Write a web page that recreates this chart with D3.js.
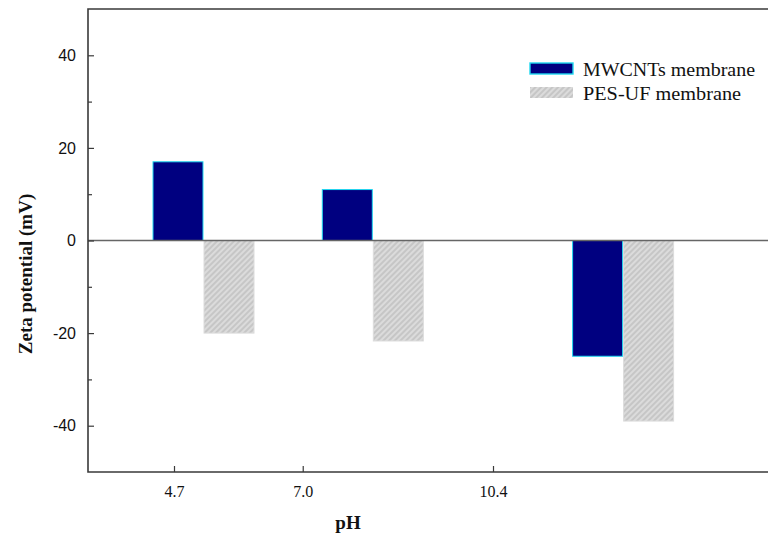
<!DOCTYPE html>
<html>
<head>
<meta charset="utf-8">
<script src="https://cdn.jsdelivr.net/npm/d3@7/dist/d3.min.js"></script>
<style>
  html, body { margin: 0; padding: 0; background: #fff; }
  svg { display: block; }
</style>
</head>
<body>
<svg id="chart" width="768" height="534"></svg>
<script>
// pH levels tested and zeta potential (mV) of each membrane
const phLevels = [4.7, 7.0, 10.4];
const phLabels = ["4.7", "7.0", "10.4"];
const seriesNames = ["MWCNTs membrane", "PES-UF membrane"];
const mwcntsZeta = [17, 11, -25];
const pesZeta = [-20, -21.7, -39];
const yMajorTicks = [-40, -20, 0, 20, 40];
const yMinorTicks = [-30, -10, 10, 30];

const svg = d3.select("#chart");
const plot = { left: 88, right: 768, top: 9, bottom: 472 };

// y: zeta potential
const y = d3.scaleLinear().domain([-50, 50]).range([plot.bottom, plot.top]);
// bar groups are placed proportionally to pH
const xBar = d3.scaleLinear().domain([4.7, 10.4]).range([203, 622.6]);
// tick labels along the bottom axis
const xTick = d3.scaleLinear().domain([4.7, 10.4]).range([174, 493]);
// position of each series inside a group
const xSeries = d3.scaleBand().domain(seriesNames).range([-50, 51]).paddingInner(0.02);

const data = [];
phLevels.forEach((ph, i) => {
  data.push({ ph, series: seriesNames[0], v: mwcntsZeta[i] });
  data.push({ ph, series: seriesNames[1], v: pesZeta[i] });
});

// hatch fill for the PES-UF bars
const defs = svg.append("defs");
const pat = defs.append("pattern")
  .attr("id", "hatch")
  .attr("patternUnits", "userSpaceOnUse")
  .attr("width", 4).attr("height", 4)
  .attr("patternTransform", "rotate(-45)");
pat.append("rect").attr("width", 4).attr("height", 4).attr("fill", "#c6c6c6");
pat.append("line").attr("x1", 0).attr("x2", 4).attr("y1", 2).attr("y2", 2)
  .attr("stroke", "#ececec").attr("stroke-width", 1.1);

const fills = { "MWCNTs membrane": "#000080", "PES-UF membrane": "url(#hatch)" };
const strokes = { "MWCNTs membrane": "#1fd8f0", "PES-UF membrane": "#dcdcdc" };

// bars
svg.append("g").selectAll("rect")
  .data(data)
  .join("rect")
  .attr("x", d => xBar(d.ph) + xSeries(d.series))
  .attr("width", xSeries.bandwidth())
  .attr("y", d => y(Math.max(0, d.v)))
  .attr("height", d => Math.abs(y(d.v) - y(0)))
  .attr("fill", d => fills[d.series])
  .attr("stroke", d => strokes[d.series])
  .attr("stroke-width", 1);

// zero line
svg.append("line")
  .attr("x1", plot.left).attr("x2", plot.right)
  .attr("y1", y(0)).attr("y2", y(0))
  .attr("stroke", "#666").attr("stroke-width", 1.6);

// frame: top, left and bottom lines
svg.append("path")
  .attr("d", `M${plot.right},${plot.top}H${plot.left}V${plot.bottom}H${plot.right}`)
  .attr("stroke", "#3a3a3a").attr("stroke-width", 1.6).attr("fill", "none");

// y axis (ticks pointing inward), plain hyphen for negatives
const yAxis = svg.append("g")
  .attr("transform", `translate(${plot.left},0)`)
  .call(d3.axisLeft(y).tickValues(yMajorTicks).tickSize(-6).tickPadding(12)
    .tickFormat(d => String(d)));
yAxis.select(".domain").remove();
yAxis.selectAll(".tick line").attr("stroke", "#3a3a3a").attr("stroke-width", 1.2);
yAxis.selectAll(".tick text")
  .attr("font-family", "'Liberation Sans', Arial, sans-serif")
  .attr("font-size", 16).attr("fill", "#111");

svg.append("g")
  .attr("transform", `translate(${plot.left},0)`)
  .call(d3.axisLeft(y).tickValues(yMinorTicks).tickSize(-4).tickFormat(""))
  .call(g => g.select(".domain").remove())
  .call(g => g.selectAll(".tick line").attr("stroke", "#3a3a3a").attr("stroke-width", 1.2));

// x axis (ticks pointing inward)
const xAxis = svg.append("g")
  .attr("transform", `translate(0,${plot.bottom})`)
  .call(d3.axisBottom(xTick).tickValues(phLevels).tickSize(-6).tickPadding(14)
    .tickFormat((d, i) => phLabels[i]));
xAxis.select(".domain").remove();
xAxis.selectAll(".tick line").attr("stroke", "#3a3a3a").attr("stroke-width", 1.2);
xAxis.selectAll(".tick text")
  .attr("font-family", "'Liberation Serif', 'Times New Roman', serif")
  .attr("font-size", 16).attr("fill", "#111");

// axis titles
svg.append("text")
  .attr("x", 348).attr("y", 529)
  .attr("text-anchor", "middle")
  .attr("font-family", "'Liberation Serif', 'Times New Roman', serif")
  .attr("font-weight", "bold").attr("font-size", 19).attr("fill", "#111")
  .text("pH");

svg.append("text")
  .attr("transform", "translate(32,274) rotate(-90)")
  .attr("text-anchor", "middle")
  .attr("font-family", "'Liberation Serif', 'Times New Roman', serif")
  .attr("font-weight", "bold").attr("font-size", 19).attr("fill", "#111")
  .text("Zeta potential (mV)");

// legend
const legendWidths = [172, 158];
const legend = svg.append("g").attr("transform", "translate(530,63)");
seriesNames.forEach((name, i) => {
  const row = legend.append("g").attr("transform", `translate(0,${i * 24})`);
  row.append("rect")
    .attr("width", 43).attr("height", 11)
    .attr("fill", fills[name])
    .attr("stroke", i === 0 ? strokes[name] : "none").attr("stroke-width", 1.4);
  row.append("text")
    .attr("x", 53).attr("y", 12.5)
    .attr("font-family", "'Liberation Serif', 'Times New Roman', serif")
    .attr("font-size", 19).attr("fill", "#111")
    .attr("textLength", legendWidths[i]).attr("lengthAdjust", "spacingAndGlyphs")
    .text(name);
});
</script>
</body>
</html>
